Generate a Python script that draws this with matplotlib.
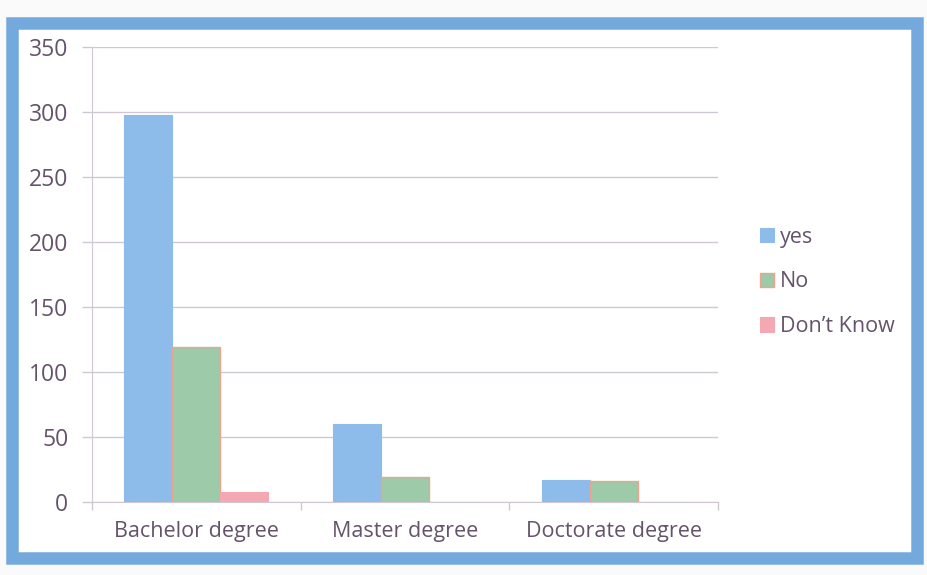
import matplotlib.pyplot as plt
import numpy as np
from matplotlib.patches import Rectangle

categories = ['Bachelor degree', 'Master degree', 'Doctorate degree']
yes = [298, 60, 17]
no = [119, 19, 16]
dont_know = [8, 0, 0]
series_names = ['yes', 'No', 'Don\u2019t Know']

plt.rcParams['font.family'] = ['Open Sans', 'DejaVu Sans']
txt = '#64536a'

fig = plt.figure(figsize=(9.28, 5.75), dpi=100)
fig.patch.set_facecolor('#fafafa')

# blue frame around the chart
frame = Rectangle((0.013, 0.03), 0.975, 0.93, transform=fig.transFigure,
                  facecolor='white', edgecolor='#74a9de', linewidth=9, zorder=-1)
fig.patches.append(frame)

ax = fig.add_axes([0.099, 0.127, 0.675, 0.791])
ax.set_facecolor('none')

x = np.arange(len(categories))
w = 0.23
b1 = ax.bar(x - w, yes, w, color='#8dbbea', edgecolor='#8dbbea', linewidth=0.8, label=series_names[0], zorder=3)
b2 = ax.bar(x, no, w, color='#9dcaa8', edgecolor='#eba58e', linewidth=1.0, label=series_names[1], zorder=3)
b3 = ax.bar(x + w, dont_know, w, color='#f4a9b2', edgecolor='#f4a9b2', linewidth=0.8, label=series_names[2], zorder=3)

ax.set_ylim(0, 350)
ax.set_yticks(range(0, 351, 50))
ax.set_xlim(-0.5, 2.5)
ax.set_xticks(x)
ax.set_xticklabels(categories)
ax.set_xticks(np.arange(-0.5, 3.0, 1.0), minor=True)

ax.yaxis.grid(True, color='#cfc8d2', linewidth=1.0, zorder=0)
for s in ['top', 'right']:
    ax.spines[s].set_visible(False)
ax.spines['left'].set_color('#cfc8d2')
ax.spines['bottom'].set_color('#cfc8d2')
ax.tick_params(axis='y', colors='#cfc8d2', length=7, width=1, labelcolor=txt, labelsize=16.5, pad=10)
ax.tick_params(axis='x', which='major', length=0, labelcolor=txt, labelsize=15.5, pad=14)
ax.tick_params(axis='x', which='minor', length=6, color='#cfc8d2', width=1)

fig.legend(handles=[b1, b2, b3], loc='center left', bbox_to_anchor=(0.798, 0.51),
           frameon=False, fontsize=15.5, labelcolor=txt, handlelength=0.65, handleheight=0.65,
           handletextpad=0.3, labelspacing=1.1)

plt.savefig('out.png', dpi=100)
